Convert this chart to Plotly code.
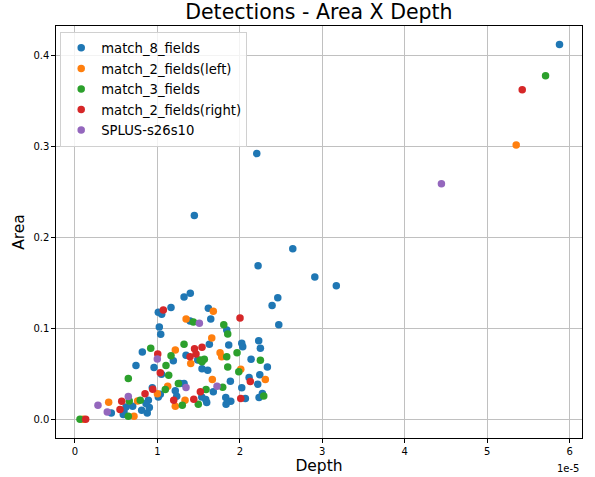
import plotly.graph_objects as go

# Depth values in units of 1e-5, Area values
m8_depth = [5.877, 2.205, 1.448, 2.642, 2.221, 2.909, 3.17, 1.399, 1.323, 2.460, 2.391, 2.472,
            1.011, 1.052, 1.165, 1.618, 1.396, 1.647, 1.023, 1.040, 1.841,
            0.817, 1.193, 0.740, 0.959, 1.050, 1.323, 0.938, 1.217, 1.035, 1.011, 1.234, 0.890,
            0.700, 0.619, 0.595, 0.441, 0.809, 0.877, 0.902, 0.862, 0.586,
            1.630, 1.865, 2.023, 2.035, 2.229, 2.249, 1.347, 1.489, 2.136, 2.334, 1.541, 1.610,
            2.242, 2.112, 2.217, 1.885, 1.274, 2.023, 1.678, 2.273, 2.233, 2.067, 1.829, 1.890,
            1.833, 1.538, 1.586, 1.598]
m8_area = [0.4125, 0.2925, 0.2243, 0.1878, 0.1691, 0.1566, 0.147, 0.1389, 0.1345, 0.1337, 0.1252, 0.1042,
           0.1179, 0.1157, 0.1230, 0.1223, 0.1083, 0.1105, 0.1017, 0.0936, 0.0983,
           0.0740, 0.0644, 0.0593, 0.0571, 0.0495, 0.0394, 0.0346, 0.0313, 0.0276, 0.0246, 0.0254, 0.0210,
           0.0144, 0.0136, 0.0081, 0.0070, 0.0099, 0.0070, 0.0129, 0.0173, 0.0052,
           0.0825, 0.0818, 0.0836, 0.0799, 0.0865, 0.0781, 0.0704, 0.0652, 0.0660, 0.0575, 0.0556, 0.0541,
           0.0490, 0.0461, 0.0387, 0.0420, 0.0394, 0.0346, 0.0302, 0.0284, 0.0240, 0.0229, 0.0240, 0.0199,
           0.0166, 0.0246, 0.0218, 0.0185]

left_depth = [5.352, 1.348, 1.678, 1.217, 1.659, 1.760, 1.780, 1.404, 1.125, 1.000, 2.011, 2.309,
              1.666, 0.409, 0.760, 1.335, 1.217, 0.716, 0.100]
left_area = [0.3020, 0.1105, 0.1190, 0.0762, 0.0895, 0.0733, 0.0688, 0.0615, 0.0365, 0.0280, 0.0552, 0.0439,
             0.0439, 0.0188, 0.0202, 0.0210, 0.0144, 0.0033, 0.0]

m3_depth = [5.708, 1.323, 0.919, 1.165, 1.104, 1.137, 0.647, 1.254, 1.096, 0.659, 0.792, 1.302,
            0.647, 0.061, 1.436, 1.805, 1.853, 1.966, 1.841, 1.517, 1.569, 1.541, 2.249, 1.853,
            1.987, 1.792, 1.590, 2.290, 1.496]
m3_area = [0.3782, 0.0825, 0.0781, 0.0699, 0.0593, 0.0486, 0.0450, 0.0394, 0.0328, 0.0202, 0.0210, 0.0155,
           0.0033, 0.0, 0.1072, 0.1042, 0.0939, 0.0733, 0.0688, 0.0652, 0.0660, 0.0633, 0.0649, 0.0575,
           0.0523, 0.0354, 0.0328, 0.0257, 0.0166]

right_depth = [5.425, 1.072, 2.002, 1.004, 1.035, 0.943, 0.850, 0.567, 1.198, 0.546, 0.130,
               1.450, 1.541, 1.468, 1.396, 2.127, 1.521, 2.011, 1.441]
right_area = [0.3628, 0.1204, 0.1116, 0.0718, 0.0512, 0.0331, 0.0280, 0.0199, 0.0210, 0.0107, 0.0,
              0.0776, 0.0792, 0.0718, 0.0688, 0.0417, 0.0302, 0.0229, 0.0221]

splus_depth = [4.445, 1.509, 0.999, 1.347, 0.647, 0.279, 0.392, 1.723]
splus_area = [0.2593, 0.1057, 0.0663, 0.0350, 0.0251, 0.0155, 0.0081, 0.0365]

series_names = ["match_8_fields", "match_2_fields(left)", "match_3_fields",
                "match_2_fields(right)", "SPLUS-s26s10"]
series_colors = ["#1f77b4", "#ff7f0e", "#2ca02c", "#d62728", "#9467bd"]
series_x = [m8_depth, left_depth, m3_depth, right_depth, splus_depth]
series_y = [m8_area, left_area, m3_area, right_area, splus_area]

x_ticks = [0, 1, 2, 3, 4, 5, 6]
y_ticks = [0.0, 0.1, 0.2, 0.3, 0.4]

fig = go.Figure()
for name, color, xs, ys in zip(series_names, series_colors, series_x, series_y):
    fig.add_trace(go.Scatter(x=xs, y=ys, mode="markers", name=name, legendgroup=name,
                             marker=dict(color=color, size=7.5, line=dict(width=0))))

font_family = "DejaVu Sans"
axis_common = dict(showline=True, linecolor="black", linewidth=1.2, mirror=True,
                   ticks="outside", ticklen=3.5, tickcolor="black", automargin=False,
                   showgrid=True, gridcolor="#c0c0c0", gridwidth=1.2,
                   zeroline=False, tickfont=dict(size=10, color="black", family=font_family))

fig.update_layout(
    width=595, height=477,
    margin=dict(l=56, r=13, t=26, b=39),
    paper_bgcolor="white", plot_bgcolor="white",
    font=dict(family=font_family, color="black"),
    title=dict(text="Detections - Area X Depth", x=0.536, xanchor="center",
               yref="container", y=0.99, yanchor="top", font=dict(size=20.5, color="black")),
    xaxis=dict(range=[-0.23, 6.15], tickvals=x_ticks, ticktext=[str(t) for t in x_ticks],
               title=dict(text="Depth", font=dict(size=15.5), standoff=4), **axis_common),
    yaxis=dict(range=[-0.0206, 0.433], tickvals=y_ticks, ticktext=[f"{t:.1f}" for t in y_ticks],
               title=dict(text="Area", font=dict(size=15.5), standoff=5), **axis_common),
    legend=dict(x=0.008, y=0.986, xanchor="left", yanchor="top",
                bgcolor="rgba(255,255,255,0.8)", bordercolor="#d0d0d0", borderwidth=1,
                font=dict(size=13.2, color="black", family=font_family),
                itemsizing="trace", tracegroupgap=0.4, itemwidth=30),
    showlegend=True,
)

fig.add_annotation(text="1e-5", xref="paper", yref="paper", x=1.0, y=-0.055,
                   xanchor="right", yanchor="top", showarrow=False,
                   font=dict(size=10, color="black", family=font_family))

fig.write_html("out.html", config={"displayModeBar": False},
               post_script="document.body.style.margin='0';")
